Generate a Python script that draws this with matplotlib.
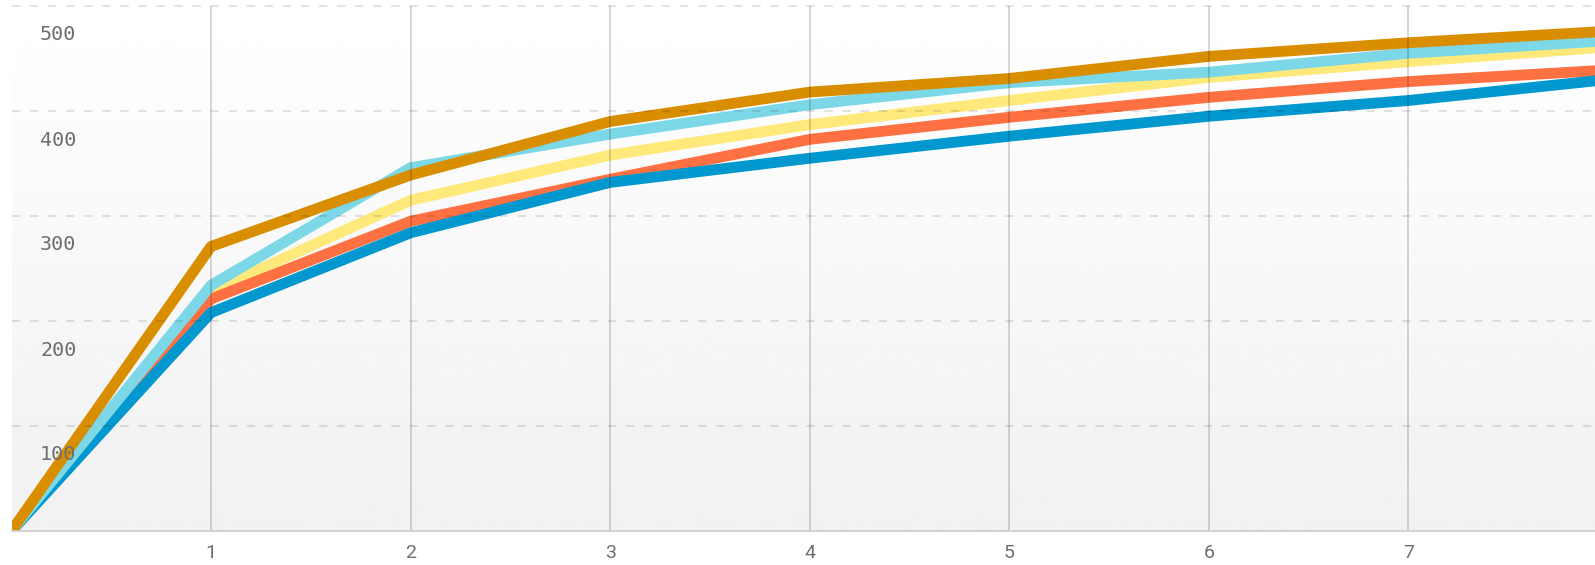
import numpy as np
import matplotlib
matplotlib.use("Agg")
import matplotlib.pyplot as plt

plt.rcParams["lines.scale_dashes"] = False

# x positions and the five series
steps = [0, 1, 2, 3, 4, 5, 6, 7, 8]
series_lemon = [0, 228, 315, 358, 387, 410, 432, 447, 461]
series_coral = [0, 221, 295, 335, 373, 394, 413, 428, 439]
series_ocean = [0, 208, 284, 332, 355, 376, 395, 410, 430]
series_sky = [0, 234, 346, 378, 406, 427, 437, 455, 467]
series_gold = [0, 271, 339, 390, 418, 431, 452, 465, 476]

x_ticks = [1, 2, 3, 4, 5, 6, 7]
x_tick_labels = ["1", "2", "3", "4", "5", "6", "7"]
y_ticks = [100, 200, 300, 400, 500]
y_tick_labels = ["100", "200", "300", "400", "500"]

W, H, DPI = 1595, 565, 100
fig = plt.figure(figsize=(W / DPI, H / DPI), dpi=DPI)
fig.patch.set_facecolor("white")

left_px, right_px = 11.5, 1608.0
bottom_px, top_px = 34.0, 559.0
ax = fig.add_axes([left_px / W, bottom_px / H,
                   (right_px - left_px) / W, (top_px - bottom_px) / H])
ax.set_xlim(0, 8)
ax.set_ylim(0, 500)
ax.set_facecolor("none")

# soft vertical gradient behind the plot
grad = np.linspace(0.945, 1.0, 256).reshape(-1, 1)
ax.imshow(grad, extent=[0, 8, 0, 500], origin="lower", aspect="auto",
          cmap="gray", vmin=0, vmax=1, zorder=0, interpolation="bilinear")

lw = 7.8
styles = [
    (series_lemon, "#FFE97A"),
    (series_coral, "#FF7043"),
    (series_ocean, "#0098CE"),
    (series_sky, "#7CD8E7"),
    (series_gold, "#D98E00"),
]
for i, (vals, col) in enumerate(styles):
    ax.plot(steps, vals, color=col, lw=lw, solid_capstyle="round",
            solid_joinstyle="round", zorder=2 + i)

# grid drawn above the series
for xv in x_ticks:
    ax.axvline(xv, color=(0, 0, 0, 0.17), lw=1.3, zorder=10)
for yv in y_ticks:
    ax.axhline(yv, color=(0, 0, 0, 0.11), lw=1.5, zorder=10,
               linestyle=(0, (6.0, 7.0)), clip_on=False)

for s in ["top", "right", "left"]:
    ax.spines[s].set_visible(False)
ax.spines["bottom"].set_color("#cfcfcf")
ax.spines["bottom"].set_linewidth(1.3)
ax.spines["bottom"].set_zorder(11)

ax.set_xticks([])
ax.set_yticks([])

for yv, lab in zip(y_ticks, y_tick_labels):
    ax.annotate(lab, xy=(0, yv), xycoords=("axes fraction", "data"),
                xytext=(28.5, -29), textcoords="offset pixels",
                ha="left", va="center", fontsize=14.5, color="#6e6e6e",
                family="DejaVu Sans Mono", zorder=12)

for xv, lab in zip(x_ticks, x_tick_labels):
    ax.annotate(lab, xy=(xv, 0), xycoords=("data", "axes fraction"),
                xytext=(0, -22), textcoords="offset pixels",
                ha="center", va="center", fontsize=14, color="#6e6e6e",
                family="Roboto", annotation_clip=False)

fig.savefig("out.png", dpi=DPI, facecolor="white")
